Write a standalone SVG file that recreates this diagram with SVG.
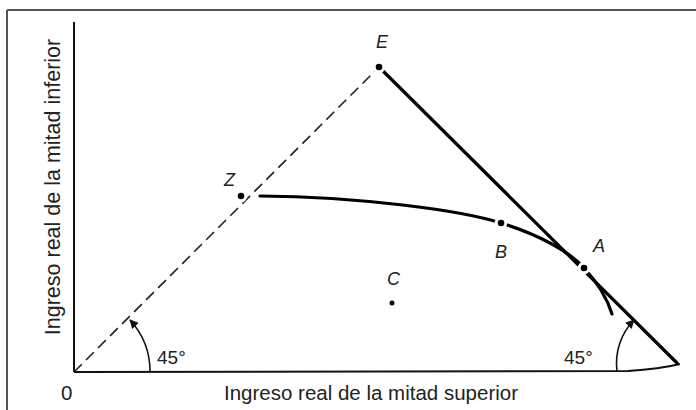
<svg xmlns="http://www.w3.org/2000/svg" width="696" height="410" viewBox="0 0 696 410">
<style>
.frame{stroke:#555;stroke-width:2;fill:none}
.axis{stroke:#111;stroke-width:2;fill:none}
.thick{stroke:#000;stroke-width:3.2;fill:none;stroke-linecap:round}
.dash{stroke:#222;stroke-width:1.6;fill:none;stroke-dasharray:11 6}
.arc{stroke:#111;stroke-width:1.6;fill:none}
.dot{fill:#000;stroke:#fff;stroke-width:3}
.lbl{font-family:"Liberation Sans",Arial,sans-serif;font-style:italic;font-size:18px;fill:#222}
.txt{font-family:"Liberation Sans",Arial,sans-serif;font-size:20.5px;fill:#222}
.ytxt{font-family:"Liberation Sans",Arial,sans-serif;font-size:21.5px;fill:#222}
.deg{font-family:"Liberation Sans",Arial,sans-serif;font-size:19px;fill:#222}
</style>
<defs>
<marker id="ah" viewBox="0 0 10 10" refX="9" refY="5" markerWidth="9" markerHeight="9" markerUnits="userSpaceOnUse" orient="auto">
<path d="M0,0 L10,5 L0,10 z" fill="#111"/>
</marker>
</defs>
<rect width="696" height="410" fill="#fff"/>
<g id="frame">
<line class="frame" x1="7" y1="10" x2="696" y2="10"/>
<line class="frame" x1="7" y1="10" x2="7" y2="410"/>
</g>
<g id="axes">
<line class="axis" x1="74" y1="22" x2="74" y2="372"/>
<path class="axis" d="M74,372 L628,371 Q660,369 680,364"/>
</g>
<g id="connectors">
<line class="dash" x1="74" y1="372" x2="379" y2="67"/>
<line class="thick" x1="379" y1="67" x2="677" y2="363"/>
<path class="thick" d="M260,196 C360,197 460,210 501,223 C540,235 570,252 584,268 C598,283 607,298 612,314"/>
<path class="arc" d="M150,372 A76,76 0 0 0 130,320" marker-end="url(#ah)"/>
<path class="arc" d="M617,371 A62,62 0 0 1 634,320" marker-end="url(#ah)"/>
</g>
<g id="E"><circle class="dot" cx="379" cy="67" r="4.8"/><text class="lbl" x="376" y="48">E</text></g>
<g id="Z"><circle class="dot" cx="241" cy="196" r="4.8"/><text class="lbl" x="224" y="186">Z</text></g>
<g id="B"><circle class="dot" cx="501" cy="223" r="4.8"/><text class="lbl" x="495" y="258">B</text></g>
<g id="A"><circle class="dot" cx="584" cy="268" r="4.8"/><text class="lbl" x="593" y="252">A</text></g>
<g id="C"><circle class="dot" cx="392" cy="303" r="4"/><text class="lbl" x="387" y="285">C</text></g>
<g id="labels">
<text class="deg" x="157" y="364">45°</text>
<text class="deg" x="564" y="364">45°</text>
<text class="txt" x="61" y="400">0</text>
<text class="txt" x="371" y="400" text-anchor="middle">Ingreso real de la mitad superior</text>
<text class="ytxt" transform="translate(60,187) rotate(-90)" text-anchor="middle">Ingreso real de la mitad inferior</text>
</g>
</svg>
